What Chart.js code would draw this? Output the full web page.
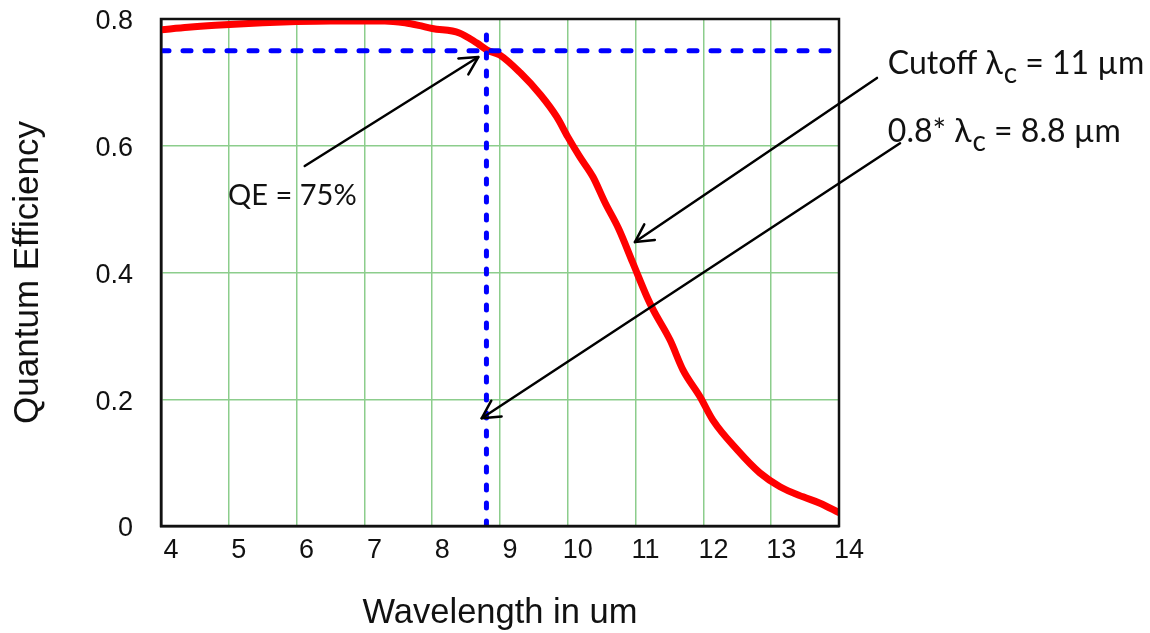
<!DOCTYPE html>
<html>
<head>
<meta charset="utf-8">
<script src="https://cdn.jsdelivr.net/npm/chart.js@4"></script>
<style>
  html, body { margin: 0; padding: 0; background: #fff; }
  #wrap { width: 1150px; height: 633px; }
</style>
</head>
<body>
<div id="wrap"><canvas id="c" width="1150" height="633"></canvas></div>
<script>
// ---- data ----
const wavelength = [4.0, 4.4, 4.8, 5.5, 6.0, 6.5, 7.0, 7.3, 7.6, 7.8, 8.0, 8.4, 8.66, 8.81, 9.0, 9.3, 9.6, 9.84, 10.0, 10.18, 10.37, 10.55, 10.75, 10.96, 11.17, 11.26, 11.51, 11.70, 11.95, 12.14, 12.5, 12.83, 13.13, 13.47, 13.72, 14.0];
const qe = [0.783, 0.787, 0.790, 0.794, 0.796, 0.797, 0.797, 0.797, 0.794, 0.790, 0.785, 0.778, 0.762, 0.751, 0.743, 0.715, 0.680, 0.645, 0.614, 0.582, 0.551, 0.510, 0.469, 0.415, 0.361, 0.341, 0.293, 0.246, 0.204, 0.167, 0.120, 0.084, 0.062, 0.046, 0.036, 0.021];

// reference lines (QE = 75 %, 0.8*lambda_c = 8.8 um)
const hLineX = [4, 13.91];
const hLineY = [0.75, 0.75];
const vLineX = [8.8, 8.8];
const vLineY = [0, 0.785];

// tick labels
const xTicks = [4, 5, 6, 7, 8, 9, 10, 11, 12, 13, 14];
const yTicks = [0, 0.2, 0.4, 0.6, 0.8];

// annotations (data units)
const arrowTailX = [6.12, 14.56, 14.90];
const arrowTailY = [0.568, 0.707, 0.604];
const arrowHeadX = [8.68, 10.99, 8.73];
const arrowHeadY = [0.740, 0.448, 0.170];

const noteX = [4.99, 14.72, 14.72];
const noteY = [0.522, 0.729, 0.622];
const noteSize = [29, 32, 32];
const noteParts = [
  [{t: 'QE = 75%'}],
  [{t: 'Cutoff λ'}, {t: 'c', sub: true}, {t: ' = 11 µm'}],
  [{t: '0.8* λ'}, {t: 'c', sub: true}, {t: ' = 8.8 µm'}]
];

const toPts = (xs, ys) => xs.map((v, i) => ({x: v, y: ys[i]}));

const notesPlugin = {
  id: 'notes',
  afterDraw(chart) {
    const {ctx, chartArea: a, scales: {x, y}} = chart;
    ctx.save();
    // plot frame
    ctx.strokeStyle = '#111';
    ctx.lineWidth = 2.5;
    ctx.strokeRect(a.left, a.top, a.right - a.left, a.bottom - a.top);

    // arrows
    ctx.strokeStyle = '#000';
    ctx.lineWidth = 2.5;
    ctx.lineCap = 'round';
    ctx.lineJoin = 'round';
    for (let i = 0; i < arrowTailX.length; i++) {
      const tx = x.getPixelForValue(arrowTailX[i]), ty = y.getPixelForValue(arrowTailY[i]);
      const hx = x.getPixelForValue(arrowHeadX[i]), hy = y.getPixelForValue(arrowHeadY[i]);
      ctx.beginPath(); ctx.moveTo(tx, ty); ctx.lineTo(hx, hy); ctx.stroke();
      const ang = Math.atan2(ty - hy, tx - hx);
      const L = 20, w = 28 * Math.PI / 180;
      ctx.beginPath();
      ctx.moveTo(hx + L * Math.cos(ang - w), hy + L * Math.sin(ang - w));
      ctx.lineTo(hx, hy);
      ctx.lineTo(hx + L * Math.cos(ang + w), hy + L * Math.sin(ang + w));
      ctx.stroke();
    }

    // notes
    ctx.fillStyle = '#111';
    ctx.textBaseline = 'middle';
    ctx.textAlign = 'left';
    for (let i = 0; i < noteParts.length; i++) {
      const s = noteSize[i];
      const fMain = s + 'px Lato, "Open Sans", sans-serif';
      const fSub = Math.round(s * 0.88) + 'px Lato, "Open Sans", sans-serif';
      let cx = x.getPixelForValue(noteX[i]);
      const cy = y.getPixelForValue(noteY[i]);
      for (const p of noteParts[i]) {
        ctx.font = p.sub ? fSub : fMain;
        ctx.fillText(p.t, cx + (p.sub ? 1 : 0), cy + (p.sub ? 10 : 0));
        cx += ctx.measureText(p.t).width + (p.sub ? 1 : 0);
      }
    }
    ctx.restore();
  }
};

new Chart(document.getElementById('c'), {
  type: 'scatter',
  data: {
    datasets: [
      {
        data: toPts(vLineX, vLineY), showLine: true, borderColor: '#0000ff', borderWidth: 5,
        borderDash: [5, 13], borderCapStyle: 'round', pointRadius: 0
      },
      {
        data: toPts(hLineX, hLineY), showLine: true, borderColor: '#0000ff', borderWidth: 5,
        borderDash: [8, 14], borderCapStyle: 'round', pointRadius: 0
      },
      {
        data: toPts(wavelength, qe), showLine: true, borderColor: '#ff0000', borderWidth: 7,
        cubicInterpolationMode: 'monotone', borderCapStyle: 'round', borderJoinStyle: 'round',
        pointRadius: 0
      }
    ]
  },
  options: {
    responsive: false,
    animation: false,
    layout: { padding: { left: 0, top: 19, right: 311, bottom: 0 } },
    plugins: { legend: { display: false }, tooltip: { enabled: false } },
    scales: {
      x: {
        type: 'linear', min: 4, max: 14,
        afterBuildTicks(s) { s.ticks = xTicks.map(v => ({value: v})); },
        afterFit(s) { s.height = 107; },
        grid: { color: 'rgb(140,205,140)', lineWidth: 1.5, drawTicks: false },
        border: { color: '#111', width: 2.5 },
        ticks: { color: '#111', font: { family: '"Liberation Sans", Arial, sans-serif', size: 27 }, padding: 8, labelOffset: 10 },
        title: { display: true, text: 'Wavelength in um', color: '#111',
          font: { family: '"Liberation Sans", Arial, sans-serif', size: 34.5, lineHeight: 1 }, padding: { top: 0, bottom: 2 } }
      },
      y: {
        type: 'linear', min: 0, max: 0.8,
        afterBuildTicks(s) { s.ticks = yTicks.map(v => ({value: v})); },
        afterFit(s) { s.width = 161; },
        grid: { color: 'rgb(140,205,140)', lineWidth: 1.5, drawTicks: true, tickLength: 28, tickColor: 'rgba(0,0,0,0)' },
        border: { color: '#111', width: 2.5 },
        ticks: { color: '#111', font: { family: '"Liberation Sans", Arial, sans-serif', size: 27 }, padding: 0, labelOffset: 3,
          callback: v => (v === 0 ? '0' : v.toFixed(1)) },
        title: { display: true, text: 'Quantum Efficiency', color: '#111',
          font: { family: '"Liberation Sans", Arial, sans-serif', size: 35, lineHeight: 1 }, padding: { top: 11, bottom: 0 } }
      }
    }
  },
  plugins: [notesPlugin]
});
</script>
</body>
</html>
